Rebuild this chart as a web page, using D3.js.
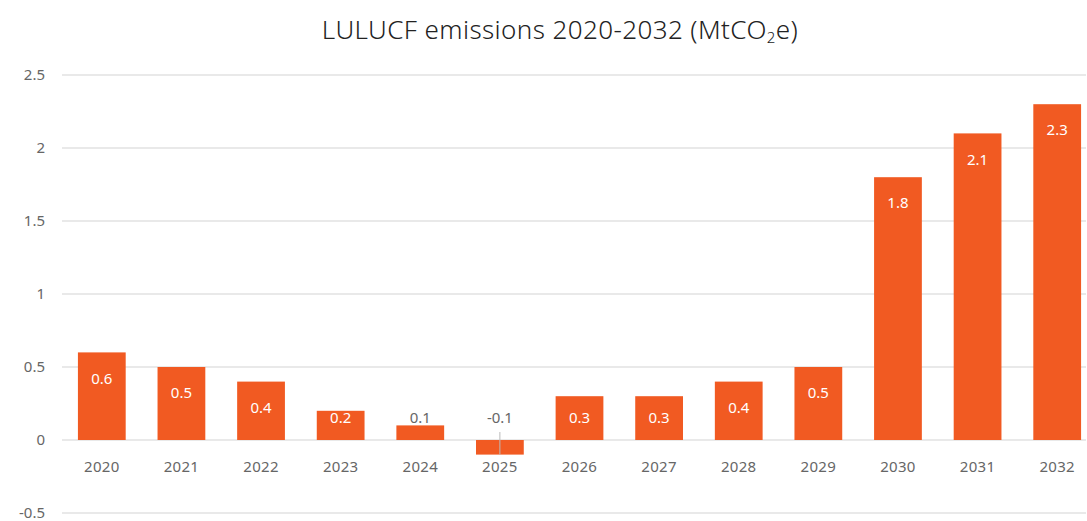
<!DOCTYPE html>
<html>
<head>
<meta charset="utf-8">
<script src="https://cdn.jsdelivr.net/npm/d3@7"></script>
<style>
  html, body { margin: 0; padding: 0; background: #fff; }
  svg { display: block; font-family: "Noto Sans", "Open Sans", sans-serif; }
</style>
</head>
<body>
<svg id="chart" width="1087" height="521"></svg>
<script>
const years = ["2020","2021","2022","2023","2024","2025","2026","2027","2028","2029","2030","2031","2032"];
const emissions = [0.6, 0.5, 0.4, 0.2, 0.1, -0.1, 0.3, 0.3, 0.4, 0.5, 1.8, 2.1, 2.3];
const valueLabels = ["0.6","0.5","0.4","0.2","0.1","-0.1","0.3","0.3","0.4","0.5","1.8","2.1","2.3"];
const yTicks = [-0.5, 0, 0.5, 1, 1.5, 2, 2.5];
const yTickLabels = ["-0.5","0","0.5","1","1.5","2","2.5"];

const svg = d3.select("#chart");
const left = 62, right = 1086;

const x = d3.scaleBand().domain(years).range([left, 1097]).paddingInner(0.4).paddingOuter(0.2);
const y = d3.scaleLinear().domain([-0.5, 2.5]).range([513, 75]);

// title
const title = svg.append("text")
  .attr("x", 560).attr("y", 39)
  .attr("text-anchor", "middle")
  .attr("font-size", 26)
  .attr("font-weight", 300)
  .attr("letter-spacing", 0.4)
  .attr("fill", "#222");
title.append("tspan").text("LULUCF emissions 2020-2032 (MtCO");
title.append("tspan").attr("font-size", 15).attr("dy", 4).text("2");
title.append("tspan").attr("dy", -4).text("e)");

// grid
svg.append("g").selectAll("line").data(yTicks).join("line")
  .attr("x1", left).attr("x2", right)
  .attr("y1", d => y(d)).attr("y2", d => y(d))
  .attr("stroke", "#e2e2e2").attr("stroke-width", 1.5);

// y labels
svg.append("g").selectAll("text").data(yTicks).join("text")
  .attr("x", 45).attr("y", d => y(d))
  .attr("dy", "0.35em")
  .attr("text-anchor", "end")
  .attr("font-size", 15).attr("fill", "#666")
  .text((d, i) => yTickLabels[i]);

// bars
svg.append("g").selectAll("rect").data(emissions).join("rect")
  .attr("x", (d, i) => x(years[i]))
  .attr("width", x.bandwidth())
  .attr("y", d => y(Math.max(0, d)))
  .attr("height", d => Math.abs(y(d) - y(0)))
  .attr("fill", "#F15A22");

// small tick on negative bar
svg.append("g").selectAll("line").data(emissions.map((d, i) => ({d, i})).filter(o => o.d < 0)).join("line")
  .attr("x1", o => x(years[o.i]) + x.bandwidth() / 2)
  .attr("x2", o => x(years[o.i]) + x.bandwidth() / 2)
  .attr("y1", y(0) - 8).attr("y2", y(-0.1))
  .attr("stroke", "#bbb").attr("stroke-width", 1);

// x labels
svg.append("g").selectAll("text").data(years).join("text")
  .attr("x", d => x(d) + x.bandwidth() / 2)
  .attr("y", 472)
  .attr("text-anchor", "middle")
  .attr("font-size", 15).attr("letter-spacing", 0.3).attr("fill", "#666")
  .text(d => d);

// value labels
svg.append("g").selectAll("text").data(emissions).join("text")
  .attr("x", (d, i) => x(years[i]) + x.bandwidth() / 2)
  .attr("y", d => Math.min(y(Math.max(0, d)) + 26, y(0) - 22))
  .attr("dy", "0.35em")
  .attr("text-anchor", "middle")
  .attr("font-size", 15)
  .attr("fill", d => d >= 0.2 ? "#fff" : "#666")
  .text((d, i) => valueLabels[i]);
</script>
</body>
</html>
